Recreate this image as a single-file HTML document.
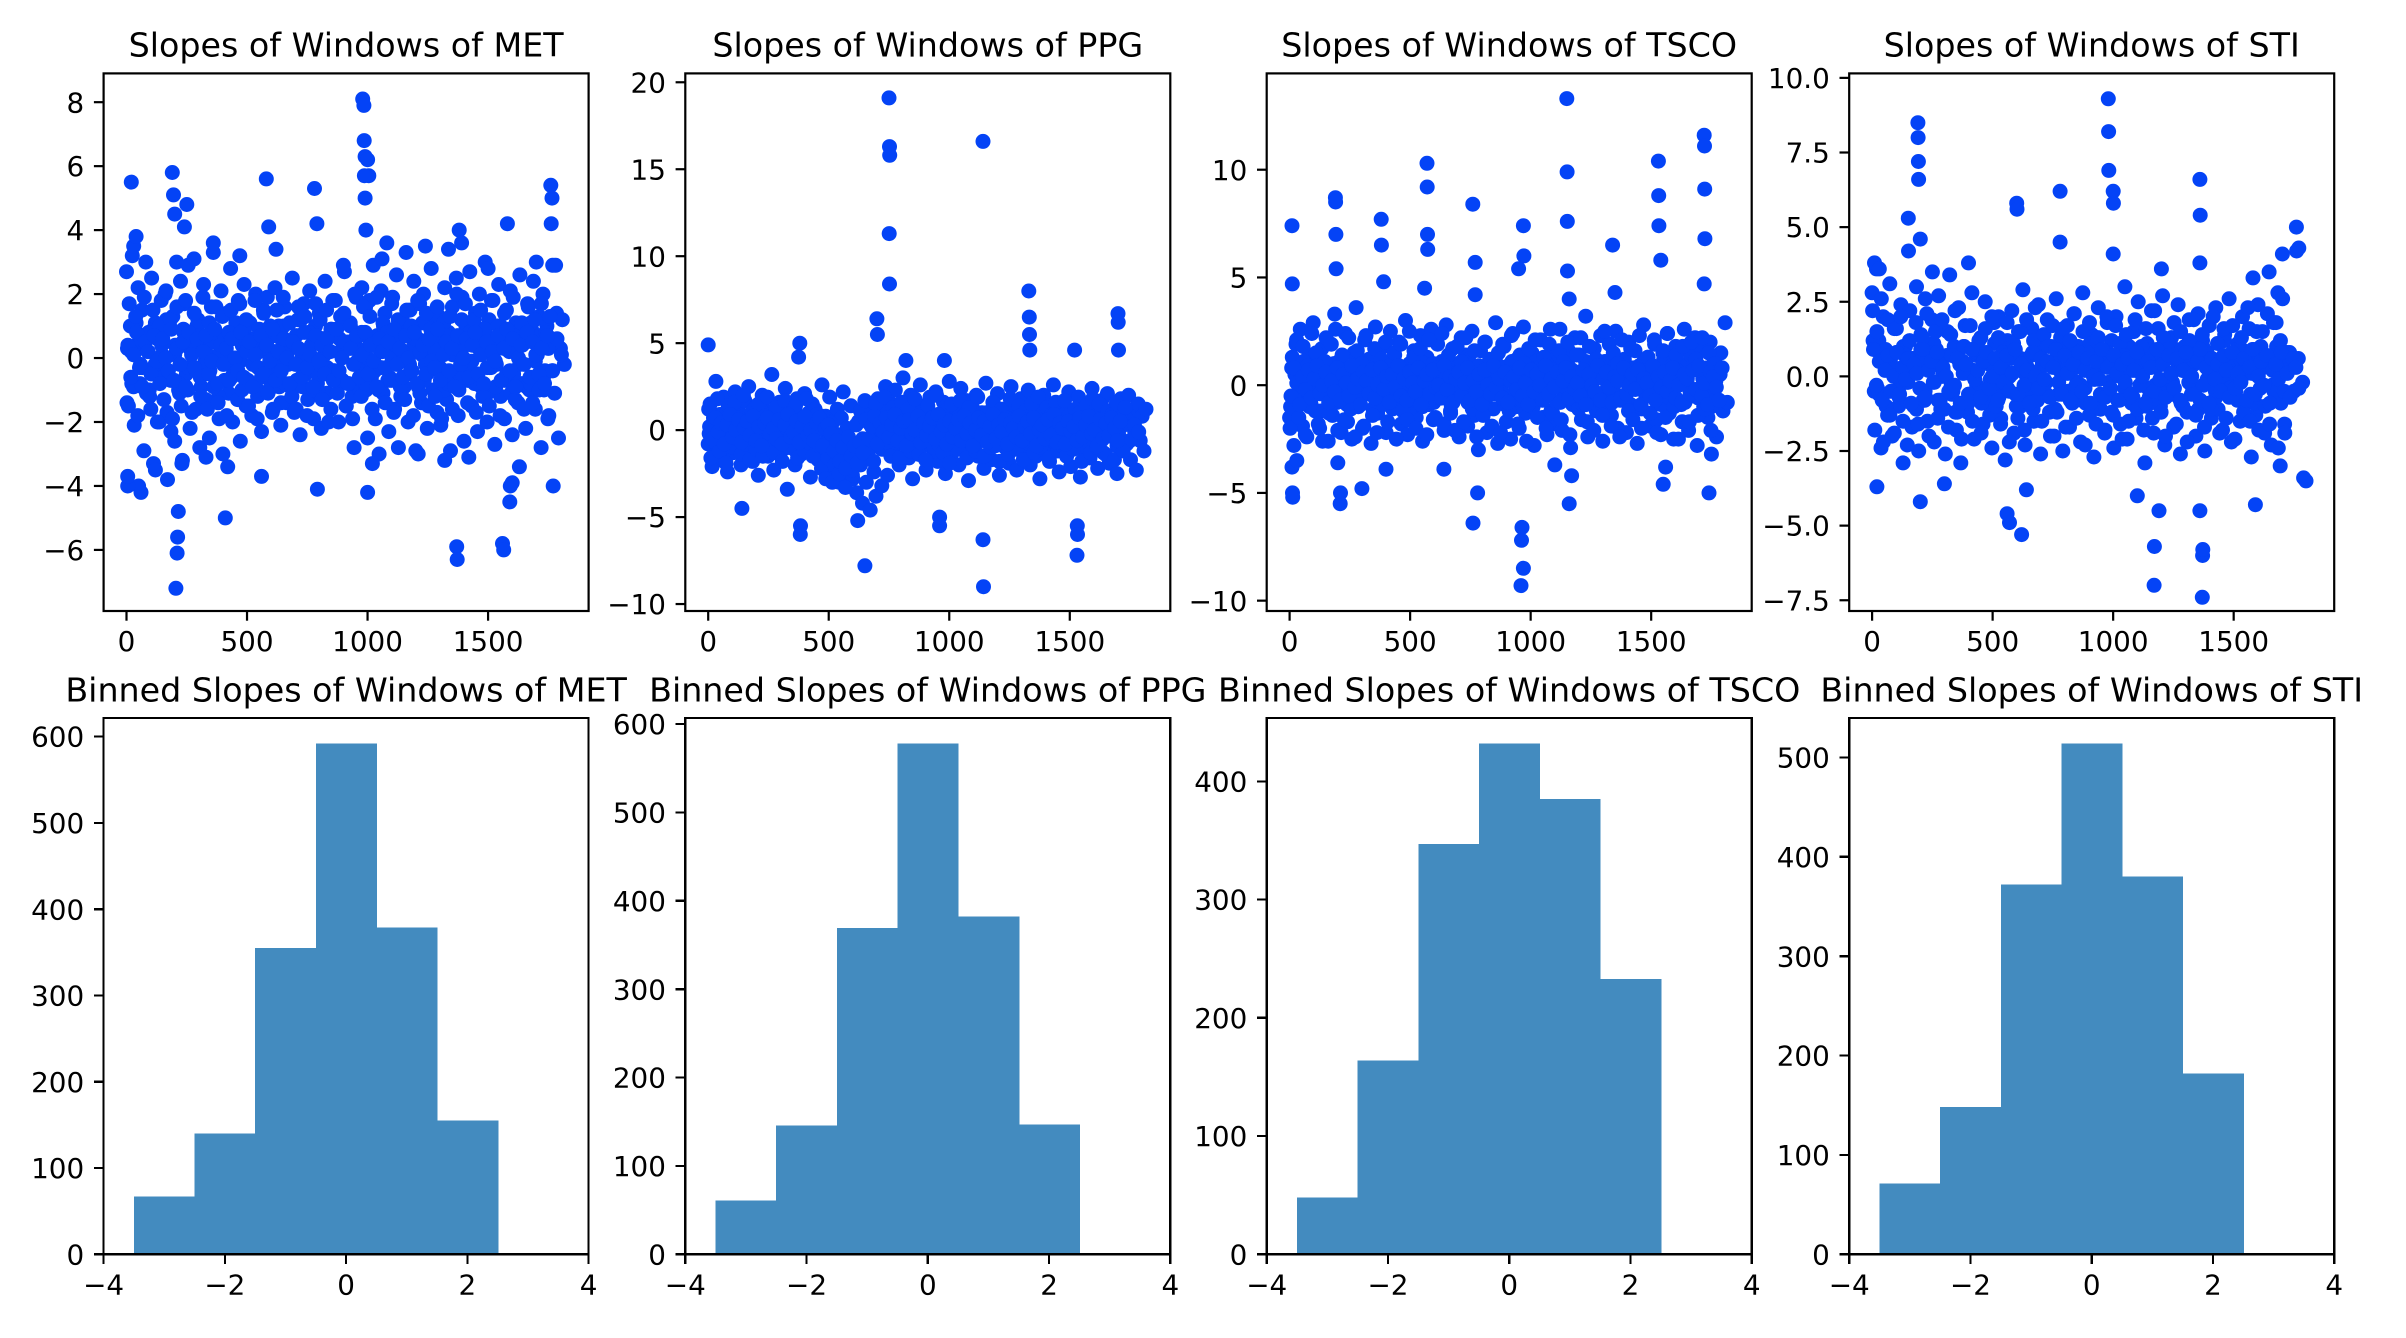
<!DOCTYPE html>
<html><head><meta charset="utf-8"><style>
html,body{margin:0;padding:0;background:#fff;}
svg{display:block;font-family:"DejaVu Sans","Liberation Sans",sans-serif;}
</style></head><body>
<svg id="fig" width="2406" height="1338" viewBox="0 0 2406 1338" xmlns="http://www.w3.org/2000/svg">
<rect x="0" y="0" width="2406" height="1338" fill="#fff"/>
</svg>
<script>
// ---------- DATA ----------
const tickers = ["MET","PPG","TSCO","STI"];
const metStep = 8, ppgStep = 8, tscoStep = 8.9, stiStep = 9.2, denseStep = 18, midStep = 9, tightStep = 12;
const metCore = [2.7,-1.5,1.0,3.2,-2.1,0.4,2.2,-0.8,1.5,-2.9,3.0,0.2,-1.2,2.5,-3.3,1.1,0.6,-2.0,1.8,-0.4,2.0,-1.7,0.9,-2.3,1.3,
-2.6,3.0,-1.0,2.4,-3.2,1.7,-0.5,2.9,-2.2,0.8,3.1,-1.6,
1.2,-2.8,0.5,2.3,-1.3,0.1,-2.5,1.6,3.3,-0.9,0.7,-1.9,2.1,-3.0,0.3,1.4,-1.1,2.8,-2.0,0.9,-0.3,1.8,-2.6,0.4,2.3,-1.5,-0.7,1.1,-1.8,0.6,2.0,-1.2,0.2,-2.3,1.5,-0.6,1.9,-1.0,0.8,-1.6,2.2,-0.2,1.0,-2.1,0.5,1.6,-1.4,0.3,-0.9,2.5,-1.7,0.7,1.2,-2.4,0.1,1.7,-0.5,-1.3,2.1,0.4,-1.9,1.0,-0.8,1.4,-2.2,0.6,2.4,-1.1,0.2,-1.6,1.8,-0.4,0.9,-2.0,1.3,-0.7,2.7,-1.5,0.5,1.1,-1.2,-2.8,1.9,0.3,-1.0,2.2,-0.3,1.6,
-2.5,1.8,-0.6,2.9,-1.9,0.7,-3.0,2.1,-1.1,1.4,3.6,-2.3,0.2,1.9,-1.6,2.6,-2.8,0.8,1.2,-0.9,3.3,-2.0,1.5,-0.4,2.4,-2.9,0.6,1.7,-1.4,2.0,-0.2,-2.2,1.1,2.8,-1.0,0.4,-1.7,1.3,
-2.1,0.9,2.2,-1.3,3.4,-2.9,1.6,-0.5,2.5,-1.8,0.3,1.9,-2.6,1.0,-0.7,2.7,-1.5,0.5,1.4,-2.3,2.0,-0.9,0.7,3.0,-2.0,1.2,-0.3,1.8,-2.7,0.4,2.3,-1.2,0.8,-1.9,1.5,-0.6,2.1,-2.4,0.2,1.1,-1.4,2.6,-0.8,0.6,-2.2,1.7,-1.0,0.9,2.4,-1.6,0.1,1.3,-2.8,2.0,-0.4,1.0,-1.8,0.5,2.9,-1.1,1.4,-2.5,0.3,1.2,-0.2];
const metDense = [0.3,-0.8,1.1,-0.2,0.6,-1.0,0.9,-0.5,0.1,1.2,-0.7,0.4,-1.1,0.8,-0.3,0.5,1.0,-0.9,0.2,-0.4,0.7,-1.2,0.6,0.0,-0.6,1.1,-0.1,0.9,-0.8,0.3,-1.0,0.5,0.8,-0.4,0.2,-0.9,1.0,-0.2,0.4,-0.7,1.2,-0.5,0.1,0.7,-1.1,0.6,-0.3,0.9,-0.6,0.2,1.1,-0.8,0.4,-0.1,0.8,-1.0,0.5,-0.4,0.3,1.0,-0.7,0.0,0.6,-1.2,0.9,-0.2,0.4,-0.9,1.1,-0.5,0.2,0.7,-0.3,-1.0,0.8,0.1,-0.6,1.2,-0.4,0.5,-0.8,0.3,0.9,-1.1,0.6,-0.2,1.0,-0.7,0.2,-0.5,0.8,0.4,-0.9,1.1,-0.1,0.7,-1.0,0.3,-0.4,0.6,0.1];
const metMid = [-1.4,1.7,0.2,-0.9,1.3,-1.8,0.6,-0.3,1.9,-1.1,0.8,-1.6,1.5,-0.2,-2.0,1.0,0.4,-1.3,2.1,-0.6,1.2,-1.9,0.1,1.6,-0.8,-1.5,0.9,1.8,-1.0,0.3,-1.7,1.4,-0.4,0.7,-1.2,1.9,-0.1,-1.6,1.1,0.5,-0.9,1.6,-1.4,0.2,1.3,-0.7,-1.8,0.8,1.5,-0.5,0.0,-1.3,1.7,-1.0,0.6,1.2,-1.5,0.4,-0.2,1.8,-1.9,0.9,-0.6,1.4,0.3,-1.1,1.0,-1.7,0.7,1.5,-0.3,-1.4,1.9,-0.8,0.2,1.1,-1.2,0.5,-1.6,1.6,-0.1,-0.9,1.3,-1.8,0.8,0.4,-1.0,1.7,-0.5,1.2,-1.3,0.1,1.5,-2.0,0.9,-0.4,1.8,-1.1,0.6,-0.7,1.4,-1.5,0.3,1.0,-1.9,2.0,-0.2,0.7,-1.2,1.6,-0.8,0.0,1.3,-1.6,0.5,1.9,-1.0,-0.3,1.1,-1.4,0.8,-0.6,1.7,-1.7,0.4,1.2,-0.9,0.2,-1.3,1.5,-0.5,1.0,-1.8,0.6,1.8,-1.1,0.1,-0.7,1.4,-1.5,0.9,0.3,-1.2,1.6,-0.4,-1.9,1.1,0.7,-0.8,1.3,-1.6,0.5,2.0,-1.0,0.2,-0.6,1.7,-1.4,0.8,-0.1,1.2,-1.7,0.4,1.5,-1.2,0.9,-0.3,-1.5,1.8,0.0,-0.9,1.0,-1.8,0.6,1.4,-0.5,0.3,-1.1,1.9,-1.3,0.7,-0.2,1.1,-1.6,0.5,1.6,-0.8,-1.4,1.2,0.1,-1.0,1.7,-0.6,0.8,-1.9,1.3,-0.4];
const metTight = [0.4,-0.6,0.1,0.8,-0.3,-0.9,0.5,0.2,-0.5,0.7,-0.1,-0.8,0.6,0.0,-0.4,0.9,-0.7,0.3,-0.2,0.5,-0.9,0.8,0.1,-0.3,0.6,-0.6,0.2,0.7,-0.5,-0.1,0.9,-0.8,0.4,-0.2,0.3,-0.7,0.6,0.0,-0.4,0.8,-0.6,0.2,0.5,-0.9,0.1,-0.3,0.7,-0.5,0.4,-0.1,0.9,-0.7,0.2,-0.4,0.6,0.0,-0.8,0.5,-0.2,0.3,-0.6,0.8,-0.3,0.1,-0.9,0.7,-0.1,0.4,-0.5,0.6,0.2,-0.7,0.9,-0.4,0.0,0.5,-0.8,0.3,-0.2,0.7,-0.6,0.1,0.8,-0.5,0.4,-0.1,-0.9,0.6,0.2,-0.3,0.5,-0.7,0.9,-0.2,0.3,-0.6,0.7,0.0,-0.4,0.8,-0.8,0.2,0.4,-0.5,0.6,-0.1,-0.3,0.9,-0.7,0.1,0.5,-0.4,0.3,-0.9,0.7,-0.2,0.0,0.6,-0.6,0.4,0.8,-0.5,0.1,-0.8,0.5,-0.3,0.2,-0.1,0.7,-0.7,0.3,0.9,-0.4,0.6,-0.9,0.0,0.4,-0.2,0.8,-0.6,0.5,0.1,-0.5,0.3,-0.8,0.7];
const metOutX = [20,30,190,195,200,205,210,212,215,250,410,580,590,780,790,792,980,985,986,990,1000,1005,987,990,993,1000,1370,1372,1380,1560,1565,1580,1590,1592,1760,1765,1762,1770,60,50,5,5,240,560,1600,40,120,170,230,330,360,420,470,620,900,1020,1060,1210,1240,1320,1390,1420,1500,1630,1700,1780];
const metOutY = [5.5,3.5,5.8,5.1,4.5,-7.2,-6.1,-5.6,-4.8,4.8,-5.0,5.6,4.1,5.3,4.2,-4.1,8.1,7.9,6.8,6.3,6.2,5.7,5.7,5.0,4.0,-4.2,-5.9,-6.3,4.0,-5.8,-6.0,4.2,-4.5,-4.0,5.4,5.0,4.2,-4.0,-4.2,-4.0,-4.0,-3.7,4.1,-3.7,-3.9,3.8,-3.5,-3.8,-3.3,-3.1,3.6,-3.4,3.2,3.4,2.9,-3.3,3.1,-3.0,3.5,-3.2,3.6,-3.1,2.8,-3.4,3.0,2.9];

const ppgCore = [-0.8,1.5,-2.1,0.4,2.8,-1.0,0.9,-1.6,1.9,-0.3,-2.4,1.2,0.6,-1.3,2.2,-0.7,1.0,-2.0,0.3,1.7,-1.1,2.5,-0.5,-1.8,0.8,1.4,-2.6,0.1,2.0,-0.9,1.1,-1.5,0.5,3.2,-2.3,0.7,-0.4,1.6,-1.2,0.2,2.4,-3.4,1.3,-0.6,0.9,-2.0,1.8,-0.2,-1.4,0.6,2.1,-1.0,0.4,-2.7,1.5,-0.8,1.0,-1.7,0.3,2.6,-1.3,0.8,-0.5,1.9,-2.2,0.5,-1.0,1.2,-3.0,0.7,2.2,-1.5,0.1,-2.5,1.4,
-2.8,-1.2,-3.6,0.5,-2.0,-4.2,1.0,-3.0,-1.5,-4.6,0.2,-2.4,-3.8,1.8,-1.0,-3.2,-0.5,2.5,-2.6,0.8,
1.5,-1.0,2.3,0.2,-2.0,1.2,3.0,-0.7,0.6,-1.6,2.0,-2.8,1.0,0.3,-1.2,2.6,-0.4,1.4,-2.3,0.8,1.9,-1.0,0.1,2.2,-1.8,0.9,-0.3,1.6,-2.5,0.5,2.8,-1.4,0.7,-0.6,1.1,-2.0,2.4,0.0,-1.1,1.7,-2.9,0.6,1.3,-0.8,2.0,-1.5,0.4,1.0,-2.2,2.7,-0.2,0.9,-1.7,1.5,-0.5,2.1,-2.6,0.3,1.2,-1.0,0.8,-1.9,2.5,-0.4,1.4,-2.3,0.2,1.8,-1.2,0.6,-0.7,2.3,-2.0,1.0,0.4,-1.5,1.6,-2.8,0.1,2.0,-0.9,1.2,-1.8,0.7,2.6,-1.1,0.3,-2.4,1.5,-0.3,0.9,-1.4,2.2,-2.1,0.5,1.1,-0.6,1.9,-2.7,0.8,-1.0,1.4,0.2,-1.6,2.4,-0.5,1.0,-2.2,0.6,1.7,-1.3,0.3,2.1,-1.9,0.9,-0.4,1.3,-2.5,0.4,1.8,-1.1,0.7,-0.8,2.0,-1.7,1.1,0.0,-2.3,1.5,-0.6,0.8,-1.2,1.2];
const ppgDense = [-0.2,0.7,-0.9,0.4,1.0,-0.5,0.1,-1.1,0.8,-0.3,0.5,-0.8,1.1,-0.1,0.6,-1.0,0.3,0.9,-0.6,0.2,-1.2,0.7,-0.4,1.0,-0.7,0.0,0.8,-1.1,0.4,-0.2,-1.5,-2.0,-1.2,-2.6,-1.8,-0.9,0.9,-0.5,0.3,-0.9,1.1,-0.3,0.6,-0.7,0.2,1.0,-1.0,0.5,-0.1,0.8,-0.6,0.4,-1.2,0.9,0.1,-0.4,0.7,-0.8,1.2,-0.2,0.3,-1.0,0.6,-0.5,0.9,0.0,-0.7,1.1,-0.3,0.4,-0.9,0.8,-0.1,0.5,-1.1,1.0,-0.6,0.2,-0.4,0.7,-0.8,0.3,1.1,-0.2,0.6,-1.0,0.4,-0.5,0.9,0.1,-0.7,0.5,-0.3,1.0,-0.9,0.2,0.7,-0.6,0.3,-0.1];
const ppgMid = [1.2,-1.6,0.4,-0.7,1.8,-1.2,0.9,-0.2,-1.9,1.4,0.1,-1.0,1.6,-0.5,0.7,-1.4,2.0,-0.8,0.3,-1.7,1.1,0.6,-1.1,1.5,-0.3,-1.5,0.8,1.9,-0.9,0.2,-1.3,1.3,-0.6,0.5,-1.8,1.7,0.0,-1.0,1.0,-0.4,1.4,-1.6,0.6,-0.1,-1.2,1.8,-0.7,0.3,-1.5,1.2,0.9,-0.9,
-2.2,-1.0,-2.8,-1.6,-0.4,-3.0,-2.0,-1.2,-2.5,-0.8,-1.8,-3.3,-1.4,-0.6,-2.3,-1.1,0.3,-1.9,
1.1,-0.5,1.7,-1.3,0.4,0.9,-1.8,1.5,-0.2,0.6,-1.1,1.9,-0.7,0.2,-1.5,1.3,-0.4,0.8,-1.6,1.6,0.0,-0.9,1.2,-1.2,0.5,1.8,-0.6,-1.4,1.0,0.3,-1.7,1.4,-0.3,0.7,-1.0,2.0,-0.8,0.1,-1.3,1.1,0.6,-1.9,1.5,-0.5,0.4,-1.1,1.7,-0.2,0.9,-1.6,1.3,-0.7,0.2,-1.2,1.9,-0.4,0.8,-1.5,1.0,0.5,-1.0,1.6,-0.9,0.3,-1.8,1.2,-0.1,0.7,-1.4,1.8,-0.6,0.4,-1.1,1.4,-0.3,-1.7,1.1,0.6,-0.8,1.5,-1.3,0.2,1.9,-1.0,0.5,-0.5,1.3,-1.6,0.9,-0.2,1.6,-1.2,0.1,-0.9,1.7,-1.5,0.8,0.3,-1.1,1.2,-0.4,1.0,-1.8,0.6,1.4,-0.7,-1.3,1.8,0.0,-1.0,1.5,-0.6,0.4,-1.4,1.1,-0.1,0.9,-1.7,1.6,-0.3,0.7,-1.2,1.3];
const ppgTight = [0.2,-0.5,0.7,-0.1,0.4,-0.8,0.3,0.9,-0.4,0.0,0.6,-0.7,0.1,0.5,-0.3,0.8,-0.6,0.2,-0.9,0.4,0.7,-0.2,0.1,-0.5,0.6,-0.8,0.3,0.9,-0.4,-0.1,0.5,-0.7,0.2,0.8,-0.3,0.0,-0.6,0.4,0.7,-0.9,0.1,0.3,-0.2,
-1.2,-0.6,-1.8,-1.0,-2.2,-0.4,-1.5,-0.9,-1.9,-0.7,-1.3,
0.6,-0.5,0.2,0.8,-0.8,0.4,-0.1,0.7,-0.4,0.3,0.9,-0.6,0.1,0.5,-0.9,0.6,-0.2,0.0,0.8,-0.7,0.4,-0.3,0.2,0.7,-0.5,0.9,-0.1,0.3,-0.8,0.5,-0.4,0.1,0.6,-0.6,0.8,-0.2,0.4,-0.9,0.0,0.7,-0.3,0.5,-0.7,0.2,0.9,-0.5,0.3,-0.1,0.6,-0.8,0.4,0.1,-0.4,0.8,-0.6,0.2,0.5,-0.2,0.7,-0.9,0.0,0.3,-0.5,0.6,-0.3,0.9,-0.7,0.4,0.1,-0.8,0.5,-0.1,0.2,-0.6,0.7,-0.4,0.3,0.8,-0.2,0.0,-0.9,0.6,-0.5,0.4,-0.3,0.7,0.1,-0.6,0.5];
const ppgOutX = [750,752,753,751,752,1140,1140,1142,1330,1332,1333,1334,1700,1701,1702,650,620,1530,1531,1532,380,382,383,0,700,702,820,980,960,140,375,960,1520];
const ppgOutY = [19.1,16.3,15.8,11.3,8.4,16.6,-6.3,-9.0,8.0,6.5,5.5,4.6,6.7,6.2,4.6,-7.8,-5.2,-7.2,-5.5,-6.0,5.0,-6.0,-5.5,4.9,6.4,5.5,4.0,4.0,-5.5,-4.5,4.2,-5.0,4.6];

const tscoCore = [-1.5,0.8,-2.8,1.9,-0.6,2.6,-1.9,0.3,-2.4,1.4,-0.9,2.9,-1.2,0.5,-2.0,1.7,-0.3,2.2,-2.6,0.9,-1.4,3.3,-0.8,1.1,-2.2,
0.6,2.4,-1.7,0.2,-2.5,1.5,3.6,-1.0,0.7,-2.0,2.1,-0.4,1.2,-2.7,0.4,2.7,-1.3,0.9,-0.5,1.8,-2.2,0.3,2.5,-1.1,1.4,
-0.7,2.0,-1.8,0.6,3.0,-2.3,1.0,-0.2,1.6,-1.5,0.8,2.3,-2.6,0.1,1.3,-0.9,2.6,-1.6,0.5,1.9,-0.4,1.1,-2.1,2.8,0.3,
-1.2,1.7,-0.6,0.9,-2.4,2.2,-0.1,1.4,-1.9,0.7,2.5,-1.4,0.2,-3.0,1.6,-0.8,2.0,-2.2,0.4,1.0,-1.1,2.9,-2.7,0.6,-0.3,
1.8,-1.7,0.9,-2.5,2.4,-0.5,1.2,-2.0,0.3,2.7,-1.3,0.8,-0.7,1.5,-2.8,1.1,0.0,2.1,-1.5,0.5,-2.3,1.9,-0.2,1.3,-1.8,
0.7,2.6,-2.1,1.0,-0.6,1.6,-2.9,0.4,2.2,-1.0,1.4,-1.6,0.2,3.2,-2.4,0.9,-0.4,1.7,-1.2,0.6,2.3,-2.6,1.1,-0.8,1.9,
-1.4,0.3,2.5,-2.0,0.8,-0.5,1.2,-2.2,2.0,-0.9,0.5,1.6,-2.7,0.9,-1.1,2.8,-0.3,1.3,-1.9,0.4,2.1,-1.6,0.7,-2.3,1.5,
-0.2,2.4,-1.3,0.6,-2.5,1.8,-0.7,1.0,-1.7,2.6,0.1,-2.1,1.4,-0.5,2.2,-2.8,0.8,1.7,-1.0,0.3,-1.5,2.0,-0.4,1.1,-2.4,
0.6,1.5,-1.2,2.9,-0.8];
const tscoDense = [-1.0,0.5,-0.3,1.1,-0.8,0.2,0.9,-1.2,0.4,-0.5,1.0,-0.1,0.7,-0.9,0.3,1.2,-0.6,0.0,0.8,-1.1,0.5,-0.2,1.0,-0.7,0.3,0.9,-0.4,0.6,-1.0,0.1,1.1,-0.5,0.4,-0.8,0.7,-0.2,1.0,-0.9,0.2,0.6,-0.3,1.2,-0.7,0.5,-1.1,0.8,0.0,-0.4,0.9,-0.6,0.3,1.1,-1.0,0.6,-0.1,0.8,-0.8,0.4,-0.3,1.0,-1.2,0.7,0.1,-0.5,0.9,-0.9,0.5,-0.2,1.1,-0.6,0.3,0.7,-1.0,0.2,-0.4,1.0,-0.7,0.6,-0.1,0.8,-1.1,0.4,0.9,-0.3,0.5,-0.8,1.2,-0.5,0.1,0.7,-0.9,0.4,-0.2,1.0,-0.6,0.3,0.8,-1.0,0.2,0.5];
const tscoMid = [-2.0,1.3,-0.6,2.1,-1.5,0.4,1.8,-2.3,0.9,-1.0,2.4,-0.3,1.5,-1.8,0.7,-2.6,1.1,0.2,-1.3,1.9,-0.8,2.6,-2.1,0.5,1.4,-1.6,0.0,2.2,-1.1,0.8,-2.4,1.6,-0.5,1.0,-1.9,2.3,-0.2,0.6,-1.4,1.7,-2.2,0.3,1.2,-0.9,2.0,-1.7,0.9,-0.4,1.5,-2.5,0.7,1.9,-1.2,0.1,-1.6,2.5,-0.7,1.3,-2.0,0.4,1.7,-1.0,0.6,-2.3,2.1,-0.1,1.0,-1.5,0.8,-0.6,2.4,-1.8,0.3,1.4,-1.3,0.5,-2.1,1.8,-0.3,1.1,-1.7,2.2,-0.8,0.2,-1.1,1.6,-2.4,0.9,0.4,-1.4,2.0,-0.5,1.2,-1.9,0.7,-0.2,1.5,-2.2,1.9,-0.9,0.6,-1.2,2.3,-0.4,0.1,-1.8,1.4,-0.7,1.0,-2.6,1.7,0.3,-1.0,2.1,-1.5,0.8,-0.3,1.3,-2.0,0.5,2.6,-1.3,0.2,-0.8,1.6,-1.6,1.1,-0.1,2.0,-2.3,0.7,-0.5,1.4,-1.1,2.2,-0.9,0.4,-1.7,1.8,0.0,-2.1,1.2,-0.6,0.9,-1.4,2.5,-0.2,0.6,-1.9,1.5,-0.4,1.0,-2.4,2.1,-0.7,0.3,-1.2,1.7,-1.6,0.8,-0.1,2.3,-2.0,1.1,-0.5,1.3,-1.3,0.5,1.9,-2.2,0.2,-0.9,1.6,-1.5,2.4,-0.6,0.9,-1.0,1.4,-2.5,0.4,1.8,-0.8,0.1,-1.7,2.0,-0.3,1.2,-1.4,0.7,2.2,-1.1,-0.4,1.5,-2.1,0.6,1.0];
const tscoTight = [-0.5,0.8,0.1,-0.9,0.4,-0.2,0.7,-0.6,0.3,0.9,-0.4,0.0,0.6,-0.8,0.2,-0.3,0.8,-0.7,0.5,0.1,-0.5,0.9,-0.1,0.3,-0.9,0.6,0.2,-0.4,0.7,-0.6,0.0,0.8,-0.2,0.4,-0.8,0.5,-0.1,0.9,-0.5,0.3,-0.7,0.6,0.1,-0.3,0.8,-0.9,0.2,0.5,-0.4,0.7,-0.1,0.0,-0.6,0.9,-0.2,0.4,-0.8,0.3,0.6,-0.5,0.1,0.8,-0.7,0.2,-0.3,0.5,-0.9,0.7,0.0,-0.4,0.9,-0.1,0.3,-0.6,0.6,-0.8,0.2,0.4,-0.2,0.8,-0.5,0.1,-0.9,0.7,-0.3,0.5,0.0,-0.7,0.9,-0.4,0.3,-0.1,0.6,-0.8,0.2,0.8,-0.6,0.4,-0.2,0.1,-0.5,0.7,-0.9,0.5,0.0,-0.3,0.9,-0.7,0.3,0.6,-0.1,-0.8,0.4,0.2,-0.6,0.8,-0.4,0.0,0.5,-0.2,0.7,-0.9,0.3,0.1,-0.5,0.9,-0.7,0.4,-0.1,0.6,-0.3,0.2,0.8,-0.6,0.0,-0.8,0.5,0.3,-0.4,0.7,-0.2,0.9,-0.5,0.1,-0.9,0.6,0.4,-0.1,-0.7,0.8];
const tscoOutX = [10,11,12,13,190,191,192,193,210,211,380,381,570,571,572,573,760,761,770,780,960,970,962,964,970,972,1150,1151,1152,1153,1160,1530,1531,1532,1550,1720,1721,1722,1723,1740,1340,300,640,10,30,390,560,950,1160,1350,1540,1720,200,400,770,1100,1170,1560,1750];
const tscoOutY = [7.4,4.7,-5.0,-5.2,8.7,8.5,7.0,5.4,-5.5,-5.0,7.7,6.5,10.3,9.2,7.0,6.3,8.4,-6.4,5.7,-5.0,-9.3,-8.5,-7.2,-6.6,7.4,6.0,13.3,9.9,7.6,5.3,-5.5,10.4,8.8,7.4,-4.6,11.6,11.1,9.1,6.8,-5.0,6.5,-4.8,-3.9,-3.8,-3.5,4.8,4.5,5.4,4.0,4.3,5.8,4.7,-3.6,-3.9,4.2,-3.7,-4.2,-3.8,-3.2];

const stiCore = [2.8,-0.5,3.6,1.2,-2.4,2.0,0.4,-1.3,3.1,-2.0,1.6,0.8,-1.0,2.4,-2.9,1.0,-0.2,2.2,-1.7,0.6,3.0,-2.5,1.4,-0.8,2.6,
-1.5,0.3,1.9,-2.2,0.9,2.7,-1.1,0.2,-2.6,1.5,3.4,-0.6,1.0,-1.8,2.3,-2.9,0.5,1.7,-1.2,0.1,2.8,-2.1,0.7,-0.4,1.3,
-1.6,2.5,-0.9,0.4,-2.4,1.8,-0.3,2.0,-1.4,0.8,-2.8,1.2,0.0,2.2,-1.9,0.6,1.5,-1.0,2.9,-2.3,0.3,-0.7,1.6,-1.5,0.9,
2.4,-2.6,1.1,-0.2,1.9,-1.2,0.5,-2.0,2.6,-0.6,1.3,-2.5,0.7,1.7,-1.7,0.2,2.1,-0.8,1.0,-2.2,2.8,-0.4,0.6,-1.3,1.4,
-2.7,0.9,2.3,-1.1,0.4,-1.8,1.8,-0.5,1.2,-2.4,2.0,0.1,-1.6,0.8,3.0,-2.1,0.5,-0.9,1.5,-1.4,2.5,-0.3,0.7,-2.9,1.1,
-0.7,2.2,-1.9,0.3,1.6,-1.0,2.7,-2.3,0.6,-0.4,1.3,-1.7,0.9,2.4,-2.6,0.2,1.0,-1.2,1.9,-0.6,0.4,-2.0,2.1,-0.8,1.2,
-2.5,0.8,1.7,-1.4,0.1,2.3,-1.1,0.5,-1.8,1.4,-0.2,2.6,-2.2,0.7,-0.5,1.1,-1.5,2.0,-0.9,0.3,1.6,-2.7,0.9,-1.3,2.4,
-0.4,1.5,-1.9,0.6,3.5,-2.3,1.8,-0.7,2.8,-3.0,4.1,-1.6,0.4];
const stiDense = [1.2,-0.4,0.8,-1.0,0.5,0.1,-0.7,1.0,-0.2,0.6,-1.1,0.9,-0.5,0.3,1.1,-0.8,0.0,0.7,-0.3,-1.2,0.4,1.0,-0.6,0.2,0.8,-0.9,0.5,-0.1,1.1,-0.7,0.3,-0.4,0.9,-1.0,0.6,0.1,-0.8,1.2,-0.3,0.4,-0.6,1.0,-1.1,0.2,0.7,-0.5,0.9,-0.2,0.5,-0.9,1.1,-0.1,0.3,-0.7,0.8,-1.2,0.6,0.0,-0.4,1.0,-0.8,0.4,0.2,-1.0,0.9,-0.3,0.7,-0.6,1.1,-0.2,0.5,-0.9,0.3,0.8,-0.5,-1.1,1.0,-0.1,0.6,-0.7,0.2,1.2,-0.4,0.4,-0.8,0.9,0.1,-0.6,0.7,-1.0,0.3,0.5,-0.3,1.0,-0.9,0.2,0.8,-0.5,0.6,-0.2];
const stiMid = [2.2,-1.8,1.5,-0.6,2.6,-2.2,0.9,1.9,-1.3,0.3,-1.9,1.6,-0.4,2.0,-1.5,0.7,-2.3,1.2,0.1,-1.0,1.8,-1.6,0.5,1.3,-0.8,2.1,-2.0,0.8,-0.2,1.5,-1.4,0.4,1.9,-1.1,0.0,-1.7,1.4,-0.5,2.2,-1.2,0.6,-2.1,1.0,0.3,-0.9,1.7,-1.5,0.9,-0.3,1.2,-1.9,0.5,1.6,-0.7,-1.3,2.0,0.2,-1.0,1.3,-1.6,0.8,-0.1,1.8,-2.2,0.6,1.1,-0.6,-1.4,1.5,0.4,-1.8,1.9,-0.4,0.7,-1.1,2.3,-0.8,0.2,-1.5,1.4,-0.2,1.0,-2.0,1.7,0.5,-1.2,0.9,-0.5,1.6,-1.7,0.3,1.2,-0.9,2.1,-1.4,0.6,-0.3,1.5,-2.3,0.8,1.8,-1.0,0.1,-1.6,1.3,-0.6,0.9,-1.9,2.0,-0.2,0.4,-1.3,1.7,-0.8,1.1,-2.1,0.7,1.4,-1.5,0.2,-0.7,1.9,-1.1,0.5,1.0,-1.8,1.6,-0.4,0.3,-1.4,2.2,-0.9,0.6,-1.2,1.3,-2.0,0.9,0.0,-0.6,1.8,-1.6,0.4,1.5,-1.0,0.7,-2.2,1.2,-0.3,1.9,-1.3,0.5,-0.8,1.4,-1.7,0.8,0.2,-1.1,2.0,-0.5,1.1,-1.9,0.6,1.6,-1.4,0.3,-0.4,1.7,-2.1,0.9,-0.2,1.3,-1.2,0.5,2.3,-1.5,0.1,-0.9,1.5,-1.8,1.0,0.4,-1.0,2.1,-1.6,0.7,-0.5,1.8,-2.4,1.2,2.6,-1.9,0.8];
const stiTight = [0.9,-0.3,0.5,-0.8,0.2,0.7,-0.5,0.0,0.8,-0.6,0.3,-0.1,0.6,-0.9,0.4,0.1,-0.4,0.9,-0.7,0.2,0.5,-0.2,0.8,-0.8,0.3,0.0,-0.5,0.7,-0.3,0.6,-0.9,0.1,0.4,-0.6,0.9,-0.1,0.2,-0.7,0.5,0.8,-0.4,0.0,0.6,-0.8,0.3,-0.2,0.7,-0.5,0.1,0.9,-0.6,0.4,-0.3,0.2,-0.9,0.8,0.0,-0.4,0.6,-0.1,0.5,-0.7,0.3,0.9,-0.2,-0.6,0.7,0.1,-0.8,0.4,-0.3,0.8,-0.5,0.2,0.6,-0.9,0.0,0.5,-0.1,0.9,-0.7,0.3,-0.4,0.7,0.1,-0.8,0.4,-0.2,0.6,-0.6,0.2,0.8,-0.3,0.0,-0.9,0.5,0.3,-0.5,0.9,-0.1,0.4,-0.7,0.7,0.1,-0.4,0.6,-0.8,0.2,0.8,-0.2,0.0,-0.6,0.5,0.9,-0.3,0.3,-0.9,0.6,-0.1,0.4,-0.5,0.7,0.2,-0.7,0.8,-0.4,0.1,-0.2,0.6,-0.8,0.3,0.9,-0.6,0.0,0.5,-0.3,0.7,-0.9,0.2,0.4,-0.1,0.8,-0.5,0.1,-0.7,0.6,0.3,-0.4];
const stiOutX = [190,191,192,193,150,151,200,980,981,982,1000,1001,780,600,601,1360,1361,1170,1171,1370,1371,1372,1360,1190,620,570,560,200,1760,1761,20,1800,10,1790,30,250,400,780,1000,1200,1360,1580,1770,300,640,1100,1590];
const stiOutY = [8.5,8.0,7.2,6.6,5.3,4.2,4.6,9.3,8.2,6.9,6.2,5.8,6.2,5.8,5.6,6.6,5.4,-7.0,-5.7,-7.4,-6.0,-5.8,-4.5,-4.5,-5.3,-4.9,-4.6,-4.2,5.0,4.2,-3.7,-3.5,3.8,-3.4,3.6,3.5,3.8,4.5,4.1,3.6,3.8,3.3,4.3,-3.6,-3.8,-4.0,-4.3];

// histograms: bin edges and counts
const binEdges = [-3.5,-2.5,-1.5,-0.5,0.5,1.5,2.5];
const metCounts = [67,140,355,592,379,155];
const ppgCounts = [61,146,369,578,382,147];
const tscoCounts = [48,164,347,432,385,233];
const stiCounts = [71,148,372,514,380,182];

// axis ranges / ticks
const scatterXTicks = [0,500,1000,1500];
const metYTicks = [-6,-4,-2,0,2,4,6,8];
const ppgYTicks = [-10,-5,0,5,10,15,20];
const tscoYTicks = [-10,-5,0,5,10];
const stiYTicks = [-7.5,-5.0,-2.5,0.0,2.5,5.0,7.5,10.0];
const histXTicks = [-4,-2,0,2,4];

// ---------- LAYOUT ----------
const NS = "http://www.w3.org/2000/svg";
const svg = document.getElementById("fig");
const axLefts = [103.6,685.3,1266.7,1849.2];
const axW = 485;
const topY0 = 73.4, topY1 = 611;
const botY0 = 718, botY1 = 1254.3;
const dotColor = "#0443f6", barColor = "#438bbf";
const tickFont = 27.8, titleFont = 33.3;

function el(tag, attrs, parent){
  const e = document.createElementNS(NS, tag);
  for (const k in attrs) e.setAttribute(k, attrs[k]);
  (parent||svg).appendChild(e);
  return e;
}
function fmt(v, dec){
  const s = Math.abs(v).toFixed(dec);
  return (v < 0 ? "\u2212" : "") + s;
}
function linScale(d0,d1,r0,r1){ return v => r0 + (v-d0)/(d1-d0)*(r1-r0); }

function drawAxes(g, left, top, bottom, sx, sy, xTicks, yTicks, xDec, yDec, title, nameBase){
  xTicks.forEach(t => {
    const x = sx(t);
    const tk = el("line",{x1:x,y1:bottom,x2:x,y2:bottom+9.7,stroke:"#000","stroke-width":2.2},g);
    
    
    const tl = el("text",{x:x,y:bottom+40,"text-anchor":"middle","font-size":tickFont,fill:"#000"},g);
    tl.textContent = fmt(t,xDec);
    
    
  });
  yTicks.forEach(t => {
    const y = sy(t);
    const tk = el("line",{x1:left-9.7,y1:y,x2:left,y2:y,stroke:"#000","stroke-width":2.2},g);
    
    
    const tl = el("text",{x:left-19.4,y:y+10.1,"text-anchor":"end","font-size":tickFont,fill:"#000"},g);
    tl.textContent = fmt(t,yDec);
    
    
  });
  const fr = el("rect",{x:left,y:top,width:axW,height:bottom-top,fill:"none",stroke:"#000","stroke-width":2.2},g);
  
  
  const tt = el("text",{x:left+axW/2,y:top-16.7,"text-anchor":"middle","font-size":titleFont,fill:"#000"},g);
  tt.textContent = title;
  
  
}

function drawScatter(idx, core, step, dense, mid, tight, outX, outY, yMin, yMax, yTicks, yDec){
  const left = axLefts[idx];
  const name = tickers[idx].toLowerCase();
  const g = el("g",{});
  
  
  const sx = linScale(-95, 1917, left, left+axW);
  const sy = linScale(yMin, yMax, topY1, topY0);
  const pts = el("g",{fill:dotColor},g);
  
  
  const add = (xv, yv) => {
    const c = el("circle",{cx:sx(xv).toFixed(1),cy:sy(yv).toFixed(1),r:7.5},pts);
    
    
  };
  core.forEach((v,i) => add(i*step, v));
  dense.forEach((v,i) => add(4 + i*denseStep, v));
  mid.forEach((v,i) => add(2 + i*midStep, v));
  tight.forEach((v,i) => add(6 + i*tightStep, v));
  outX.forEach((xv,i) => add(xv, outY[i]));
  drawAxes(g, left, topY0, topY1, sx, sy, scatterXTicks, yTicks, 0, yDec, "Slopes of Windows of " + tickers[idx], name + '-scatter');
}

function drawHist(idx, counts, yTicks){
  const left = axLefts[idx];
  const name = tickers[idx].toLowerCase();
  const g = el("g",{"shape-rendering":"crispEdges"});
  
  
  const yMax = Math.max(...counts) * 1.05;
  const sx = linScale(-4, 4, left, left+axW);
  const sy = linScale(0, yMax, botY1, botY0);
  counts.forEach((c,i) => {
    const x0 = sx(binEdges[i]), x1 = sx(binEdges[i+1]);
    const b = el("rect",{x:x0,y:sy(c),width:x1-x0+0.6,height:botY1-sy(c),fill:barColor},g);
    
    
  });
  drawAxes(g, left, botY0, botY1, sx, sy, histXTicks, yTicks, 0, 0, "Binned Slopes of Windows of " + tickers[idx], name + '-hist');
}

drawScatter(0, metCore, metStep, metDense, metMid, metTight, metOutX, metOutY, -7.91, 8.9, metYTicks, 0);
drawScatter(1, ppgCore, ppgStep, ppgDense, ppgMid, ppgTight, ppgOutX, ppgOutY, -10.4, 20.51, ppgYTicks, 0);
drawScatter(2, tscoCore, tscoStep, tscoDense, tscoMid, tscoTight, tscoOutX, tscoOutY, -10.48, 14.47, tscoYTicks, 0);
drawScatter(3, stiCore, stiStep, stiDense, stiMid, stiTight, stiOutX, stiOutY, -7.86, 10.15, stiYTicks, 1);

drawHist(0, metCounts, [0,100,200,300,400,500,600]);
drawHist(1, ppgCounts, [0,100,200,300,400,500,600]);
drawHist(2, tscoCounts, [0,100,200,300,400]);
drawHist(3, stiCounts, [0,100,200,300,400,500]);
</script>
</body></html>
